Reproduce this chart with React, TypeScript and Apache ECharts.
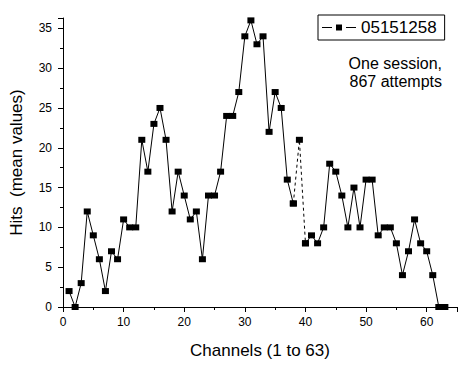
import React, { useEffect, useRef } from "react";
import * as echarts from "echarts";

const channels: number[] = Array.from({ length: 63 }, (_, i) => i + 1);
const hits: number[] = [
  2, 0, 3, 12, 9, 6, 2, 7, 6, 11,
  10, 10, 21, 17, 23, 25, 21, 12, 17, 14,
  11, 12, 6, 14, 14, 17, 24, 24, 27, 34,
  36, 33, 34, 22, 27, 25, 16, 13, 21, 8,
  9, 8, 10, 18, 17, 14, 10, 15, 10, 16,
  16, 9, 10, 10, 8, 4, 7, 11, 8, 7,
  4, 0, 0,
];
// channels joined by a dashed segment instead of solid
const dashedChannels: number[] = [38, 39, 40];
const seriesName = "05151258";
const xTicks = [0, 10, 20, 30, 40, 50, 60];
const yTicks = [0, 5, 10, 15, 20, 25, 30, 35];
const note = ["One session,", "867 attempts"];

export default function App() {
  const ref = useRef<HTMLDivElement>(null);
  useEffect(() => {
    if (!ref.current) return;
    const chart = echarts.init(ref.current, null, { renderer: "svg" });
    const inner = dashedChannels.slice(1, -1);
    const solid = channels.map((c, i) => [c, inner.includes(c) ? null : hits[i]]);
    const dashed = channels.map((c, i) => [c, dashedChannels.includes(c) ? hits[i] : null]);
    const font = "Arial, 'Liberation Sans', sans-serif";
    chart.setOption({
      animation: false,
      backgroundColor: "#fff",
      grid: { left: 58, right: 10, top: 18, bottom: 59, containLabel: false },
      xAxis: {
        type: "value",
        min: 0,
        max: 65,
        interval: 10,
        name: "Channels (1 to 63)",
        nameLocation: "middle",
        nameGap: 35,
        nameTextStyle: { fontFamily: font, fontSize: 17, color: "#000" },
        axisLine: { show: true, lineStyle: { color: "#000", width: 1 } },
        axisTick: { show: true, length: 5, lineStyle: { color: "#000" } },
        minorTick: { show: true, splitNumber: 2, length: 3, lineStyle: { color: "#000" } },
        axisLabel: {
          fontFamily: font, fontSize: 12, color: "#000", margin: 9,
          showMaxLabel: false,
          formatter: (v: number) => (xTicks.includes(v) ? String(v) : ""),
        },
        splitLine: { show: false },
      },
      yAxis: {
        type: "value",
        min: 0,
        max: 36.3,
        interval: 5,
        name: "Hits  (mean values)",
        nameLocation: "middle",
        nameGap: 38,
        nameTextStyle: { fontFamily: font, fontSize: 17, color: "#000" },
        axisLine: { show: true, lineStyle: { color: "#000", width: 1 } },
        axisTick: { show: true, length: 5, lineStyle: { color: "#000" } },
        minorTick: { show: true, splitNumber: 2, length: 3, lineStyle: { color: "#000" } },
        axisLabel: {
          fontFamily: font, fontSize: 12, color: "#000", margin: 11,
          showMaxLabel: false,
          formatter: (v: number) => (yTicks.includes(v) ? String(v) : ""),
        },
        splitLine: { show: false },
      },
      legend: {
        data: [{ name: seriesName, icon: "path://M0,4.5h10v1h-10z M14,2h6v6h-6z M24,4.5h10v1h-10z" }],
        left: 318,
        top: 15,
        padding: [4, 8, 4, 4],
        itemWidth: 34,
        itemHeight: 10,
        itemGap: 4,
        borderColor: "#000",
        borderWidth: 1,
        borderRadius: 0,
        textStyle: { fontFamily: font, fontSize: 17, color: "#000", padding: [0, 0, 0, 0] },
      },
      graphic: note.map((line, i) => ({
        type: "text",
        right: 25,
        top: 55 + i * 18,
        style: {
          text: line,
          textAlign: "right",
          fontFamily: font,
          fontSize: 16,
          fill: "#000",
        },
      })),
      series: [
        {
          name: seriesName,
          type: "line",
          data: solid,
          connectNulls: false,
          symbol: "rect",
          symbolSize: [7, 6],
          showAllSymbol: true,
          itemStyle: { color: "#000" },
          lineStyle: { color: "#000", width: 1 },
          z: 3,
        },
        {
          name: "dashed",
          type: "line",
          data: dashed,
          connectNulls: false,
          symbol: "rect",
          symbolSize: [7, 6],
          showAllSymbol: true,
          itemStyle: { color: "#000" },
          lineStyle: { color: "#000", width: 1, type: [3, 3] },
          z: 2,
        },
      ],
    });
    return () => chart.dispose();
  }, []);
  return (
    <div
      ref={ref}
      style={{ position: "fixed", left: 0, top: 0, width: 467, height: 366 }}
    />
  );
}
